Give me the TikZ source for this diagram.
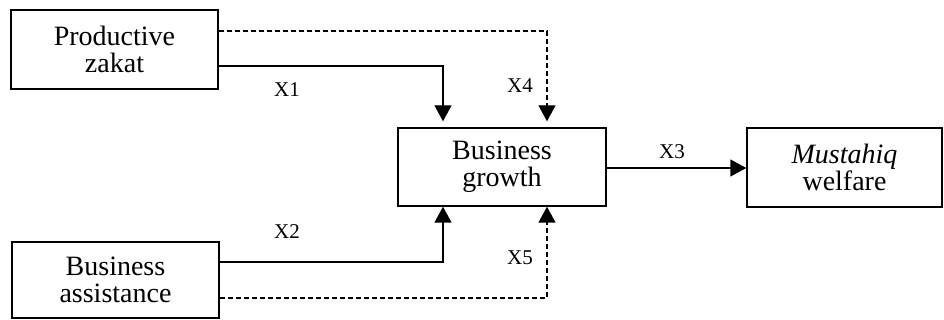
\documentclass[tikz,border=0pt]{standalone}
\usepackage{fontspec}
\setmainfont{Liberation Serif}
\usetikzlibrary{arrows.meta}
\tikzset{
  box/.style={draw, line width=1.4pt, rectangle, align=center, inner sep=0pt,
              font=\fontsize{28}{27}\selectfont},
  conn/.style={line width=1.4pt, -{Triangle[width=17pt,length=16pt]}},
  dconn/.style={conn, dash pattern=on 5pt off 3pt},
  lbl/.style={font=\fontsize{21}{22}\selectfont, inner sep=0pt}
}
\begin{document}
\begin{tikzpicture}[x=1pt,y=-1pt]
  \useasboundingbox (0,0) rectangle (944,320);

  % boxes
  \node[box, minimum width=207pt, minimum height=79pt] (pz) at (114.5,49.5) {Productive\\zakat};
  \node[box, minimum width=207pt, minimum height=76pt] (ba) at (115.5,280) {Business\\assistance};
  \node[box, minimum width=208pt, minimum height=78pt] (bg) at (502,167) {Business\\growth};
  \node[box, minimum width=195pt, minimum height=79pt] (mw) at (844.5,167.5) {\textit{Mustahiq}\\welfare};

  % connectors into Business growth from above
  \draw[conn]  ([yshift=-16.5pt]pz.east) -| ([xshift=-59pt,yshift=6pt]bg.north);
  \draw[dconn] ([yshift=18.5pt]pz.east)  -| ([xshift=45pt,yshift=6pt]bg.north);

  % connectors into Business growth from below
  \draw[conn]  ([yshift=18pt]ba.east)  -| ([xshift=-59pt]bg.south);
  \draw[dconn] ([yshift=-18pt]ba.east) -| ([xshift=45pt]bg.south);

  % Business growth to Mustahiq welfare
  \draw[conn] ([yshift=-1pt]bg.east) -- ([yshift=-0.5pt]mw.west);

  % path labels
  \node[lbl] (x1) at (287,90)  {X1};
  \node[lbl] (x4) at (520,86)  {X4};
  \node[lbl] (x2) at (287,232) {X2};
  \node[lbl] (x5) at (520,258) {X5};
  \node[lbl] (x3) at (672,152) {X3};
\end{tikzpicture}
\end{document}
